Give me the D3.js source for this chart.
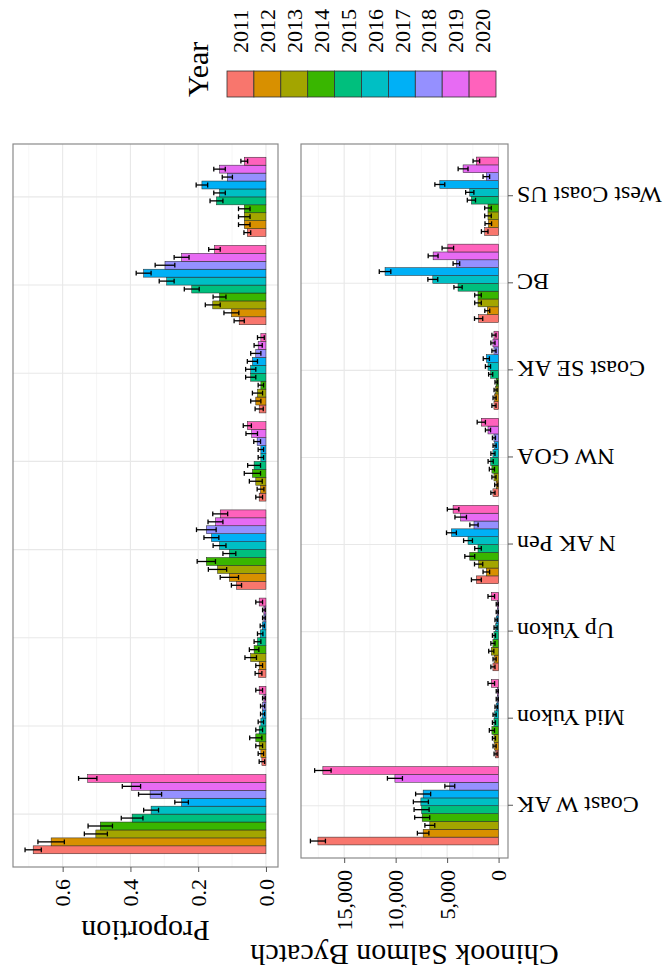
<!DOCTYPE html>
<html>
<head>
<meta charset="utf-8">
<script src="https://cdn.jsdelivr.net/npm/d3@7"></script>
<style>
  body { margin: 0; background: #fff; }
  svg { display: block; }
  text { font-family: "Liberation Serif", "Times New Roman", serif; fill: #000; }
</style>
</head>
<body>
<svg id="chart" width="668" height="976"></svg>
<script>
// Stock areas (x axis) and sample years (dodged bars)
const categories = ["Coast W AK", "Mid Yukon", "Up Yukon", "N AK Pen", "NW GOA", "Coast SE AK", "BC", "West Coast US"];
const years = [2011, 2012, 2013, 2014, 2015, 2016, 2017, 2018, 2019, 2020];
const yearColors = ["#F8766D", "#D89000", "#A3A500", "#39B600", "#00BF7D", "#00BFC4", "#00B0F6", "#9590FF", "#E76BF3", "#FF62BC"];

// Stock proportion by area, one row per area, one value per year
const proportionMean = [
  [0.687, 0.634, 0.502, 0.489, 0.395, 0.339, 0.249, 0.342, 0.397, 0.526],
  [0.012, 0.015, 0.020, 0.030, 0.020, 0.015, 0.010, 0.010, 0.006, 0.020],
  [0.022, 0.020, 0.045, 0.035, 0.025, 0.017, 0.011, 0.006, 0.006, 0.020],
  [0.087, 0.108, 0.143, 0.176, 0.108, 0.137, 0.161, 0.176, 0.149, 0.135],
  [0.020, 0.016, 0.030, 0.040, 0.035, 0.015, 0.015, 0.026, 0.042, 0.055],
  [0.020, 0.030, 0.025, 0.015, 0.045, 0.045, 0.040, 0.030, 0.023, 0.015],
  [0.079, 0.102, 0.157, 0.137, 0.219, 0.293, 0.361, 0.298, 0.249, 0.152],
  [0.055, 0.064, 0.064, 0.064, 0.146, 0.137, 0.189, 0.114, 0.137, 0.064]
];
const proportionErr = [
  [0.024, 0.039, 0.034, 0.036, 0.032, 0.022, 0.020, 0.034, 0.027, 0.027],
  [0.008, 0.008, 0.010, 0.018, 0.010, 0.008, 0.006, 0.006, 0.004, 0.010],
  [0.010, 0.010, 0.017, 0.014, 0.010, 0.008, 0.006, 0.004, 0.004, 0.010],
  [0.015, 0.027, 0.027, 0.027, 0.019, 0.019, 0.022, 0.029, 0.022, 0.022],
  [0.010, 0.010, 0.019, 0.024, 0.019, 0.008, 0.008, 0.010, 0.017, 0.012],
  [0.012, 0.015, 0.015, 0.008, 0.015, 0.015, 0.015, 0.015, 0.012, 0.010],
  [0.015, 0.022, 0.022, 0.019, 0.022, 0.022, 0.022, 0.029, 0.022, 0.017],
  [0.010, 0.017, 0.017, 0.017, 0.019, 0.017, 0.017, 0.015, 0.017, 0.010]
];

// Chinook salmon bycatch (fish) by area and year
const bycatchMean = [
  [17550, 7330, 6680, 7420, 7480, 7550, 7330, 4740, 10070, 17070],
  [290, 390, 450, 650, 450, 390, 230, 130, 130, 710],
  [550, 390, 710, 550, 450, 290, 230, 130, 130, 710],
  [2160, 1190, 1940, 2800, 2000, 2970, 4580, 2390, 3680, 4420],
  [550, 230, 450, 650, 770, 550, 390, 450, 1030, 1680],
  [450, 390, 290, 230, 770, 1030, 1190, 450, 550, 450],
  [1940, 1100, 2000, 2000, 3940, 6390, 11030, 4100, 6360, 4930],
  [1350, 1000, 1030, 1030, 2640, 2800, 5710, 1190, 3450, 2160]
];
const bycatchErr = [
  [730, 560, 480, 730, 730, 730, 730, 480, 730, 800],
  [150, 150, 150, 250, 150, 150, 120, 100, 100, 320],
  [200, 150, 250, 200, 150, 150, 120, 100, 100, 320],
  [480, 320, 400, 480, 320, 430, 480, 400, 560, 560],
  [200, 150, 200, 250, 250, 200, 150, 150, 250, 400],
  [200, 150, 150, 120, 200, 250, 300, 200, 200, 200],
  [400, 240, 320, 320, 400, 480, 560, 320, 480, 560],
  [320, 320, 320, 320, 400, 400, 480, 320, 480, 320]
];

const proportionTicks = [0, 0.2, 0.4, 0.6];
const bycatchTicks = [0, 5000, 10000, 15000];

// The figure is laid out landscape (976 wide, 668 tall) and turned a quarter turn
// counter-clockwise onto the portrait page.
const svg = d3.select("#chart");
const root = svg.append("g").attr("transform", "translate(0,976) rotate(-90)");

const color = d3.scaleOrdinal().domain(years).range(yearColors);

function rows(means, errs) {
  const out = [];
  categories.forEach((c, i) => years.forEach((y, j) => {
    out.push({ cat: c, year: y, v: means[i][j], e: errs[i][j] });
  }));
  return out;
}

function drawPanel(opt) {
  const data = rows(opt.means, opt.errs);
  const x = d3.scalePoint().domain(categories).range([opt.x0, opt.x1]).padding(0.6);
  const step = x.step();
  const dodge = d3.scaleBand().domain(years).range([-0.45 * step, 0.45 * step]);
  const top = d3.max(data, d => d.v + d.e);
  const y = d3.scaleLinear().domain([-0.05 * top, 1.05 * top]).range([opt.y1, opt.y0]);

  const g = root.append("g");

  // panel background grid
  const minor = opt.ticks.map(t => t + (opt.ticks[1] - opt.ticks[0]) / 2)
    .filter(t => y(t) >= opt.y0);
  g.selectAll(".minor").data(minor).enter().append("line")
    .attr("x1", opt.x0).attr("x2", opt.x1)
    .attr("y1", d => y(d)).attr("y2", d => y(d))
    .attr("stroke", "#f2f2f2").attr("stroke-width", 0.7);
  g.selectAll(".major").data(opt.ticks).enter().append("line")
    .attr("x1", opt.x0).attr("x2", opt.x1)
    .attr("y1", d => y(d)).attr("y2", d => y(d))
    .attr("stroke", "#e8e8e8").attr("stroke-width", 1.1);
  g.selectAll(".vgrid").data(categories).enter().append("line")
    .attr("x1", d => x(d)).attr("x2", d => x(d))
    .attr("y1", opt.y0).attr("y2", opt.y1)
    .attr("stroke", "#e8e8e8").attr("stroke-width", 1.1);

  // bars
  g.selectAll(".bar").data(data).enter().append("rect")
    .attr("x", d => x(d.cat) + dodge(d.year))
    .attr("width", dodge.bandwidth())
    .attr("y", d => y(d.v))
    .attr("height", d => y(0) - y(d.v))
    .attr("fill", d => color(d.year))
    .attr("stroke", "#222").attr("stroke-width", 0.5);

  // error bars
  const cap = dodge.bandwidth() * 0.3;
  const eb = g.selectAll(".err").data(data).enter().append("g")
    .attr("stroke", "#000").attr("stroke-width", 1.3);
  const cx = d => x(d.cat) + dodge(d.year) + dodge.bandwidth() / 2;
  eb.append("line").attr("x1", cx).attr("x2", cx)
    .attr("y1", d => y(d.v - d.e)).attr("y2", d => y(d.v + d.e));
  eb.append("line").attr("x1", d => cx(d) - cap).attr("x2", d => cx(d) + cap)
    .attr("y1", d => y(d.v - d.e)).attr("y2", d => y(d.v - d.e));
  eb.append("line").attr("x1", d => cx(d) - cap).attr("x2", d => cx(d) + cap)
    .attr("y1", d => y(d.v + d.e)).attr("y2", d => y(d.v + d.e));

  // panel border
  g.append("rect").attr("x", opt.x0).attr("y", opt.y0)
    .attr("width", opt.x1 - opt.x0).attr("height", opt.y1 - opt.y0)
    .attr("fill", "none").attr("stroke", "#8a8a8a").attr("stroke-width", 1.2);

  // value axis
  const ax = g.append("g").attr("transform", `translate(${opt.x0},0)`)
    .call(d3.axisLeft(y).tickValues(opt.ticks).tickFormat(opt.format).tickSize(5).tickPadding(7));
  ax.select(".domain").remove();
  ax.selectAll(".tick line").attr("stroke", "#555");
  ax.selectAll("text").attr("font-size", 22).attr("fill", "#000");

  // axis title
  g.append("text")
    .attr("transform", `translate(${opt.titleX},${(opt.y0 + opt.y1) / 2}) rotate(-90)`)
    .attr("text-anchor", "middle").attr("font-size", 30)
    .text(opt.title);

  // category axis
  if (opt.showCategories) {
    const cax = g.append("g").attr("transform", `translate(0,${opt.y1})`)
      .call(d3.axisBottom(x).tickSize(5).tickPadding(4));
    cax.select(".domain").remove();
    cax.selectAll(".tick line").attr("stroke", "#555");
    cax.selectAll("text")
      .attr("y", null).attr("x", null).attr("dy", "0.35em")
      .attr("transform", "translate(0,9) rotate(-90)")
      .attr("text-anchor", "end").attr("font-size", 24).attr("fill", "#000");
  }
}

drawPanel({
  means: proportionMean, errs: proportionErr,
  x0: 109, x1: 832, y0: 13, y1: 278,
  ticks: proportionTicks, format: d3.format(".1f"),
  title: "Proportion", titleX: 55, showCategories: false
});

drawPanel({
  means: bycatchMean, errs: bycatchErr,
  x0: 118, x1: 832, y0: 301, y1: 508,
  ticks: bycatchTicks, format: d3.format(","),
  title: "Chinook Salmon Bycatch", titleX: 31, showCategories: true
});

// legend
const legend = root.append("g");
legend.append("text").attr("x", 879).attr("y", 208).attr("font-size", 30).text("Year");
const key = d3.scaleBand().domain(years).range([227, 496]);
legend.selectAll(".key").data(years).enter().append("rect")
  .attr("x", 879).attr("y", d => key(d))
  .attr("width", 26).attr("height", key.bandwidth())
  .attr("fill", d => color(d)).attr("stroke", "#333").attr("stroke-width", 0.8);
legend.selectAll(".lab").data(years).enter().append("text")
  .attr("x", 923).attr("y", d => key(d) + key.bandwidth() / 2)
  .attr("dy", "0.35em").attr("font-size", 22).text(d => d);
</script>
</body>
</html>
